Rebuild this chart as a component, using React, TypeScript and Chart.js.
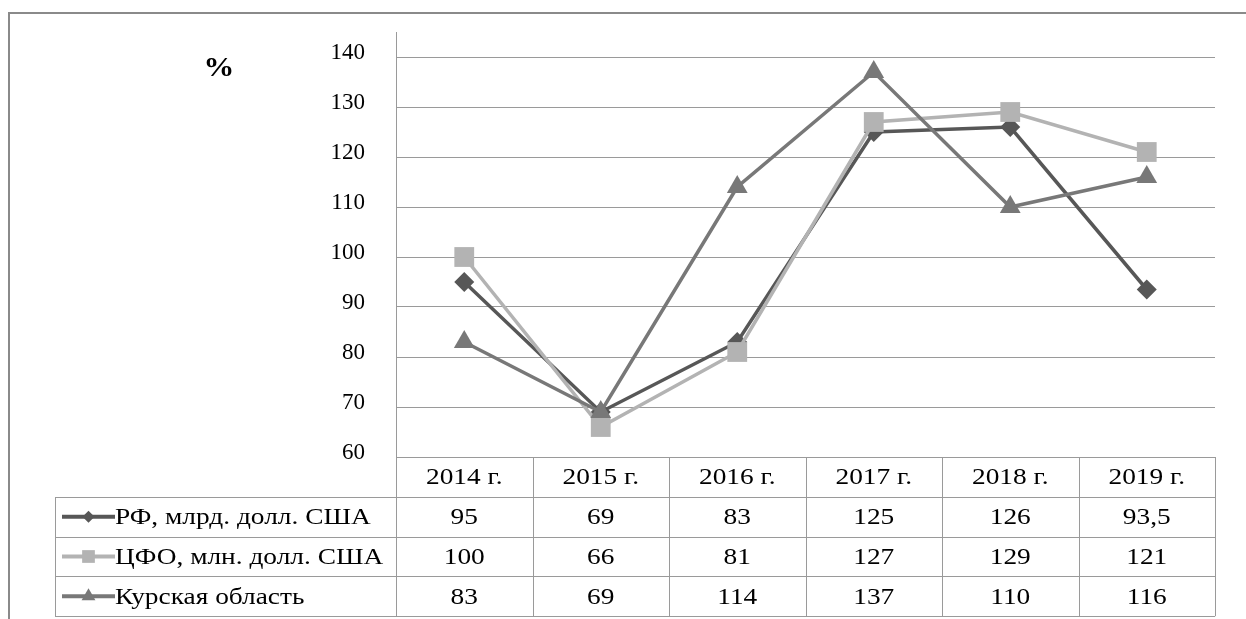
import React, { useEffect, useRef } from "react";
import { Chart, registerables } from "chart.js";

Chart.register(...registerables);

const categories = ["2014 г.", "2015 г.", "2016 г.", "2017 г.", "2018 г.", "2019 г."];
const seriesNames = ["РФ, млрд. долл. США", "ЦФО, млн. долл. США", "Курская область"];
const rfValues = [95, 69, 83, 125, 126, 93.5];
const cfoValues = [100, 66, 81, 127, 129, 121];
const kurskValues = [83, 69, 114, 137, 110, 116];
const yTickValues = [60, 70, 80, 90, 100, 110, 120, 130, 140];
const yAxisMax = 145;
const unitLabel = "%";

const colors = ["#575757", "#b3b3b3", "#787878"];
const pointStyles = ["rectRot", "rect", "triangle"];
const pointRadii = [10, 14, 12];

const W = 1246;
const H = 619;
const FONT = "'Liberation Serif', 'Times New Roman', serif";
const STRETCH = 1.14;

const fmt = (v: number) => String(v).replace(".", ",");

function stretchText(ctx: CanvasRenderingContext2D, text: string, x: number, y: number, sx: number) {
  ctx.save();
  ctx.translate(x, y);
  ctx.scale(sx, 1);
  ctx.fillText(text, 0, 0);
  ctx.restore();
}

function drawMarker(ctx: CanvasRenderingContext2D, style: string, x: number, y: number, r: number) {
  ctx.beginPath();
  if (style === "rect") {
    const s = Math.SQRT1_2 * r;
    ctx.rect(x - s, y - s, 2 * s, 2 * s);
  } else if (style === "rectRot") {
    ctx.moveTo(x - r, y);
    ctx.lineTo(x, y - r);
    ctx.lineTo(x + r, y);
    ctx.lineTo(x, y + r);
    ctx.closePath();
  } else {
    const h = r * 1.5;
    const half = (r * Math.sqrt(3)) / 2;
    ctx.moveTo(x - half, y + h / 3);
    ctx.lineTo(x + half, y + h / 3);
    ctx.lineTo(x, y - (2 * h) / 3);
    ctx.closePath();
  }
  ctx.fill();
}

const tablePlugin = {
  id: "dataTable",
  beforeDraw(chart: any) {
    const ctx = chart.ctx as CanvasRenderingContext2D;
    ctx.save();
    ctx.fillStyle = "#ffffff";
    ctx.fillRect(0, 0, W, H);
    ctx.strokeStyle = "#8a8a8a";
    ctx.lineWidth = 2;
    ctx.beginPath();
    ctx.moveTo(9, H);
    ctx.lineTo(9, 13);
    ctx.lineTo(W, 13);
    ctx.stroke();
    ctx.fillStyle = "#000";
    ctx.font = `bold 28px ${FONT}`;
    ctx.textAlign = "center";
    ctx.textBaseline = "middle";
    stretchText(ctx, unitLabel, 219, 69, 1.1);
    ctx.restore();
  },
  afterDraw(chart: any) {
    const ctx = chart.ctx as CanvasRenderingContext2D;
    const xs = chart.scales.x;
    const area = chart.chartArea;
    const n = categories.length;
    const colW = (area.right - area.left) / n;
    const top = area.bottom;
    const rowH = 39.8;
    const legendLeft = 55;
    const rows = [rfValues, cfoValues, kurskValues];
    const bottom = top + rowH * (rows.length + 1);

    ctx.save();
    ctx.strokeStyle = "#9a9a9a";
    ctx.lineWidth = 1;
    ctx.beginPath();
    const hy = (i: number) => Math.round(top + rowH * i) + 0.5;
    ctx.moveTo(area.left, hy(0));
    ctx.lineTo(area.right, hy(0));
    for (let i = 1; i <= rows.length + 1; i++) {
      ctx.moveTo(legendLeft, hy(i));
      ctx.lineTo(area.right, hy(i));
    }
    for (let c = 0; c <= n; c++) {
      const x = Math.round(area.left + colW * c) + 0.5;
      ctx.moveTo(x, top);
      ctx.lineTo(x, bottom);
    }
    ctx.moveTo(legendLeft + 0.5, hy(1));
    ctx.lineTo(legendLeft + 0.5, hy(rows.length + 1));
    ctx.stroke();

    ctx.fillStyle = "#000";
    ctx.font = `24px ${FONT}`;
    ctx.textAlign = "center";
    ctx.textBaseline = "middle";
    for (let c = 0; c < n; c++) {
      const cx = xs.getPixelForValue(c);
      stretchText(ctx, categories[c], cx, top + rowH * 0.5 + 1, STRETCH);
      rows.forEach((vals, r) => {
        stretchText(ctx, fmt(vals[c]), cx, top + rowH * (r + 1.5) + 1, STRETCH);
      });
    }

    rows.forEach((_, r) => {
      const cy = top + rowH * (r + 1.5);
      ctx.strokeStyle = colors[r];
      ctx.fillStyle = colors[r];
      ctx.lineWidth = 4;
      ctx.beginPath();
      ctx.moveTo(62, cy);
      ctx.lineTo(115, cy);
      ctx.stroke();
      drawMarker(ctx, pointStyles[r], 88.5, cy, [6, 9, 8][r]);
      ctx.fillStyle = "#000";
      ctx.textAlign = "left";
      stretchText(ctx, seriesNames[r], 115, cy + 1, STRETCH);
    });
    ctx.restore();
  },
};

export default function App() {
  const ref = useRef<HTMLCanvasElement | null>(null);
  useEffect(() => {
    if (!ref.current) return;
    const data = [rfValues, cfoValues, kurskValues];
    const chart = new Chart(ref.current, {
      type: "line",
      data: {
        labels: categories,
        datasets: data.map((vals, i) => ({
          label: seriesNames[i],
          data: vals,
          borderColor: colors[i],
          backgroundColor: colors[i],
          borderWidth: 3.5,
          tension: 0,
          pointStyle: pointStyles[i] as any,
          pointRadius: pointRadii[i],
          pointHoverRadius: pointRadii[i],
          pointBorderWidth: 0,
          pointBackgroundColor: colors[i],
          order: 3 - i,
        })),
      },
      options: {
        responsive: false,
        animation: false,
        devicePixelRatio: 1,
        layout: { padding: { left: 0, top: 32, right: 31, bottom: 162 } },
        plugins: { legend: { display: false }, tooltip: { enabled: false } },
        scales: {
          x: { type: "category", offset: true, display: false },
          y: {
            min: yTickValues[0],
            max: yAxisMax,
            afterBuildTicks: (s: any) => {
              s.ticks = yTickValues.map((v) => ({ value: v }));
            },
            afterFit: (s: any) => {
              s.width = 396;
              s.paddingTop = 0;
              s.paddingBottom = 0;
            },
            ticks: {
              padding: 31,
              labelOffset: -4,
              color: "#000",
              font: { family: FONT, size: 23 },
            },
            grid: { color: "#9a9a9a", lineWidth: 1, drawTicks: false },
            border: { display: true, color: "#9a9a9a", width: 1 },
          },
        },
      },
      plugins: [tablePlugin],
    });
    return () => chart.destroy();
  }, []);
  return (
    <div style={{ position: "absolute", left: 0, top: 0, width: W, height: H }}>
      <canvas ref={ref} width={W} height={H} />
    </div>
  );
}
